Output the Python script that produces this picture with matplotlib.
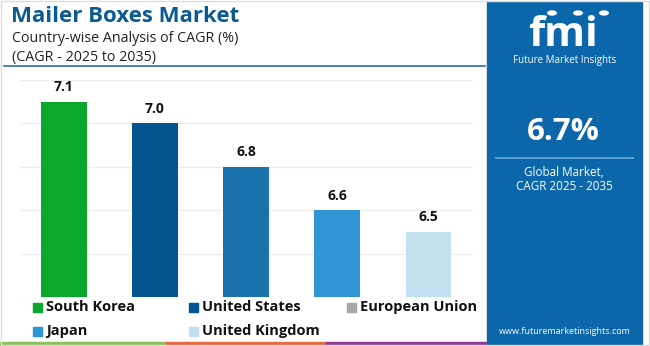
#!/usr/bin/env python3

import matplotlib
matplotlib.use("Agg")
import matplotlib.pyplot as plt
from matplotlib.patches import Rectangle, Circle
from matplotlib.lines import Line2D

plt.rcParams["font.family"] = ["Open Sans", "DejaVu Sans"]

# Data
countries = ["South Korea", "United States", "European Union", "Japan", "United Kingdom"]
cagr = [7.1, 7.0, 6.8, 6.6, 6.5]
bar_colors = ["#0aa92e", "#03558f", "#1a72ac", "#3195d5", "#c3e0f0"]
legend_colors = ["#0aa92e", "#03558f", "#a8a8a8", "#3195d5", "#c3e0f0"]
global_cagr = "6.7%"

W, H = 650, 346
fig = plt.figure(figsize=(W / 100, H / 100), dpi=100)


def fx(px):
    return px / W


def fy(py):
    return 1 - py / H


# Chart area
ax = fig.add_axes([fx(20), fy(297), fx(473) - fx(20), fy(80) - fy(297)])
x = range(len(cagr))
ax.bar(x, cagr, width=0.5, color=bar_colors, zorder=2)
for i, v in enumerate(cagr):
    ax.text(i, v + 0.035, f"{v:.1f}", ha="center", va="bottom",
            fontsize=10, fontweight="bold", color="#111111")
ax.set_ylim(6.2, 7.2)
ax.set_xlim(-0.48, 4.49)
for yv in [6.2, 6.4, 6.6, 6.8, 7.0, 7.2]:
    ax.axhline(yv, color="#ececec", linewidth=0.8, zorder=1)
ax.set_xticks([])
ax.set_yticks([])
for s in ax.spines.values():
    s.set_visible(False)

# Titles
fig.text(fx(11), fy(17), "Mailer Boxes Market", fontsize=16, fontweight="bold",
         color="#0b5a91", va="center", ha="left")
fig.text(fx(12), fy(38), "Country-wise Analysis of CAGR (%)", fontsize=10.3,
         color="#222222", va="center", ha="left")
fig.text(fx(12), fy(57), "(CAGR - 2025 to 2035)", fontsize=10.3,
         color="#222222", va="center", ha="left")
fig.add_artist(Line2D([fx(4), fx(485)], [fy(66), fy(66)], color="#2a6fa8", linewidth=1.2))

# Legend
leg_pos = [(33, 307), (189, 307), (347, 307), (33, 331), (189, 331)]
for (lx, ly), name, col in zip(leg_pos, countries, legend_colors):
    fig.add_artist(Rectangle((fx(lx), fy(ly + 4.5)), fx(9), 9 / H, color=col))
    fig.text(fx(lx + 13), fy(ly), name, fontsize=10.5, fontweight="bold",
             color="#111111", va="center", ha="left")

# Bottom stripes
for x0, x1, col in [(0, 166, "#8dc05a"), (166, 326, "#e8693c"), (326, 487, "#8e3b94")]:
    fig.add_artist(Rectangle((fx(x0), 0), fx(x1 - x0), 4 / H, color=col))

# Right panel
panel = "#0b66aa"
fig.add_artist(Rectangle((fx(487), 0), fx(642 - 487), fy(2), color=panel))
fig.text(fx(563), fy(46), "fmi", fontsize=30, fontweight="bold", color="white",
         ha="center", va="baseline")
for sy in range(20, 47, 4):
    fig.add_artist(Line2D([fx(520), fx(610)], [fy(sy), fy(sy)], color=panel, linewidth=0.8))
for cx in [552, 578, 604]:
    fig.add_artist(Circle((fx(cx), fy(13)), 5 / W, transform=fig.transFigure,
                          facecolor="white", edgecolor="none"))
fig.text(fx(565), fy(61), "Future Market Insights", fontsize=7, color="white",
         ha="center", va="center")
fig.text(fx(563), fy(132), global_cagr, fontsize=22.5, fontweight="bold", color="white",
         ha="center", va="center")
fig.add_artist(Line2D([fx(496), fx(633)], [fy(158), fy(158)], color="#6aaee0", linewidth=1.2))
fig.text(fx(564), fy(173), "Global Market,", fontsize=8.4, color="white",
         ha="center", va="center")
fig.text(fx(564), fy(187), "CAGR 2025 - 2035", fontsize=8.4, color="white",
         ha="center", va="center")
fig.text(fx(565), fy(331), "www.futuremarketinsights.com", fontsize=6.5, color="white",
         ha="center", va="center")

# Light frame
fig.add_artist(Rectangle((0.002, 0.002), 0.996, 0.996, fill=False,
                         edgecolor="#dddddd", linewidth=1))

fig.savefig("out.png", dpi=100)
